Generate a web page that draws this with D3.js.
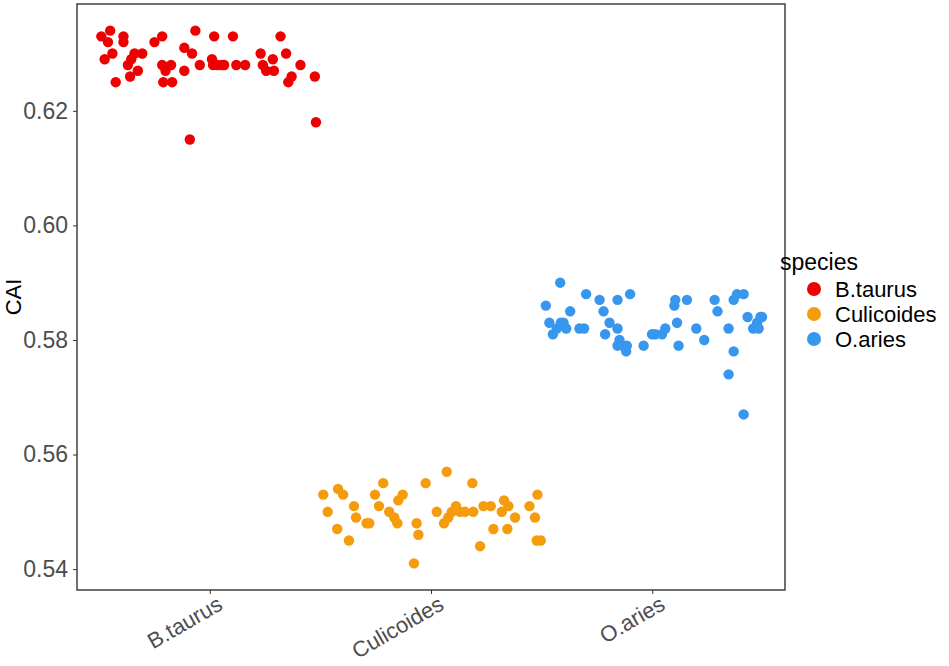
<!DOCTYPE html>
<html>
<head>
    <meta charset="utf-8">
    <title>CAI by species</title>
    <script src="https://cdn.jsdelivr.net/npm/d3@7"></script>
    <style>
        body { margin: 0; background: #fff; }
        text { font-family: "Liberation Sans", Arial, sans-serif; }
    </style>
</head>
<body>
<div id="chart"></div>
<script>
    var width = 949,
        height = 666;

    var species = ["B.taurus", "Culicoides", "O.aries"];
    var colors = ["#EE0000", "#F59C0C", "#3796EE"];
    var yTicks = [0.54, 0.56, 0.58, 0.60, 0.62];

    // CAI values per species, with the horizontal jitter (category units)
    var taurusCAI = [0.633, 0.634, 0.632, 0.633, 0.632, 0.630, 0.629, 0.625, 0.630, 0.630, 0.629, 0.628,
        0.627, 0.626, 0.632, 0.633, 0.628, 0.628, 0.627, 0.625, 0.625, 0.631, 0.630, 0.627, 0.634, 0.628,
        0.633, 0.629, 0.628, 0.628, 0.628, 0.633, 0.628, 0.628, 0.630, 0.628, 0.627, 0.629, 0.627, 0.633,
        0.630, 0.628, 0.626, 0.625, 0.626, 0.618, 0.615, 0.628];
    var taurusJit = [-0.49, -0.45, -0.46, -0.39, -0.39, -0.44, -0.475, -0.425, -0.34, -0.305, -0.355, -0.37,
        -0.325, -0.36, -0.25, -0.215, -0.215, -0.175, -0.2, -0.21, -0.17, -0.115, -0.08, -0.115, -0.065, -0.045,
        0.02, 0.01, 0.015, 0.055, 0.065, 0.105, 0.12, 0.16, 0.23, 0.24, 0.255, 0.285, 0.29, 0.32,
        0.345, 0.41, 0.37, 0.355, 0.475, 0.48, -0.09, 0.035];

    var culiCAI = [0.553, 0.550, 0.547, 0.554, 0.553, 0.545, 0.551, 0.549, 0.548, 0.548, 0.553, 0.551,
        0.555, 0.550, 0.549, 0.548, 0.552, 0.553, 0.548, 0.546, 0.541, 0.555, 0.550, 0.548, 0.557, 0.549,
        0.550, 0.551, 0.550, 0.550, 0.550, 0.555, 0.544, 0.551, 0.551, 0.547, 0.550, 0.552, 0.551, 0.547,
        0.549, 0.551, 0.549, 0.553, 0.545, 0.545];
    var culiJit = [-0.487, -0.467, -0.424, -0.42, -0.397, -0.371, -0.348, -0.339, -0.291, -0.279, -0.253, -0.235,
        -0.216, -0.189, -0.166, -0.152, -0.148, -0.128, -0.065, -0.057, -0.077, -0.024, 0.026, 0.059, 0.071, 0.078,
        0.094, 0.113, 0.131, 0.154, 0.191, 0.187, 0.222, 0.237, 0.27, 0.282, 0.32, 0.33, 0.35, 0.345,
        0.38, 0.445, 0.47, 0.481, 0.478, 0.496];

    var ariesCAI = [0.590, 0.586, 0.583, 0.581, 0.582, 0.583, 0.583, 0.582, 0.585, 0.582, 0.582, 0.588,
        0.587, 0.585, 0.583, 0.581, 0.587, 0.582, 0.588, 0.580, 0.579, 0.579, 0.579, 0.578, 0.579, 0.581,
        0.581, 0.581, 0.582, 0.586, 0.587, 0.587, 0.583, 0.579, 0.582, 0.580, 0.587, 0.585, 0.582, 0.587,
        0.588, 0.588, 0.584, 0.578, 0.574, 0.567, 0.582, 0.583, 0.584, 0.584, 0.582];
    var ariesJit = [-0.416, -0.481, -0.465, -0.449, -0.431, -0.413, -0.401, -0.389, -0.371, -0.329, -0.308, -0.299,
        -0.238, -0.22, -0.193, -0.213, -0.157, -0.157, -0.1, -0.148, -0.157, -0.133, -0.115, -0.118, -0.039, -0.001,
        0.014, 0.044, 0.059, 0.1, 0.104, 0.157, 0.112, 0.119, 0.199, 0.235, 0.282, 0.295, 0.345, 0.368,
        0.383, 0.413, 0.431, 0.368, 0.345, 0.413, 0.456, 0.474, 0.489, 0.496, 0.481];

    var groups = [[taurusCAI, taurusJit], [culiCAI, culiJit], [ariesCAI, ariesJit]];
    var points = [];
    groups.forEach(function(g, k){
        g[0].forEach(function(v, i){
            points.push({sp: k, x: k + 1 + g[1][i], y: v});
        });
    });

    var pLeft = 77, pRight = 785, pTop = 4, pBottom = 590;

    var ext = d3.extent(points, function(d){ return d.y; });
    var pad = (ext[1] - ext[0]) * 0.05;

    var x = d3.scaleLinear().domain([0.4, 3.6]).range([pLeft, pRight]);
    var y = d3.scaleLinear().domain([ext[0] - pad, ext[1] + pad]).range([pBottom, pTop]);

    var svg = d3.select("#chart").append("svg")
        .attr("width", width)
        .attr("height", height);

    svg.append("g").selectAll("circle")
        .data(points)
        .enter().append("circle")
        .attr("cx", function(d){ return x(d.x); })
        .attr("cy", function(d){ return y(d.y); })
        .attr("r", 5.2)
        .attr("fill", function(d){ return colors[d.sp]; });

    // panel border
    svg.append("rect")
        .attr("x", pLeft).attr("y", pTop)
        .attr("width", pRight - pLeft).attr("height", pBottom - pTop)
        .attr("fill", "none")
        .attr("stroke", "#333")
        .attr("stroke-width", 1.4);

    var yAxis = svg.append("g")
        .attr("transform", "translate(" + pLeft + ",0)")
        .call(d3.axisLeft(y).tickValues(yTicks).tickFormat(d3.format(".2f")).tickSize(4).tickPadding(5));
    yAxis.select(".domain").remove();
    yAxis.selectAll("line").attr("stroke", "#333");
    yAxis.selectAll("text").attr("fill", "#4D4D4D").style("font-size", "23px");

    var xAxis = svg.append("g")
        .attr("transform", "translate(0," + pBottom + ")")
        .call(d3.axisBottom(x).tickValues([1, 2, 3]).tickFormat(function(d){ return species[d - 1]; }).tickSize(4));
    xAxis.select(".domain").remove();
    xAxis.selectAll("line").attr("stroke", "#333");
    xAxis.selectAll("text")
        .attr("fill", "#4D4D4D")
        .style("font-size", "22px")
        .attr("text-anchor", "end")
        .attr("x", 6)
        .attr("y", 5)
        .attr("dy", "0.71em")
        .attr("transform", "rotate(-30,6,5)");

    svg.append("text")
        .attr("transform", "translate(21," + ((pTop + pBottom) / 2) + ") rotate(-90)")
        .attr("text-anchor", "middle")
        .style("font-size", "22px")
        .text("CAI");

    // legend
    var legend = svg.append("g").attr("transform", "translate(806,0)");
    legend.append("text")
        .attr("x", -26).attr("y", 270)
        .style("font-size", "23px")
        .text("species");
    var items = legend.selectAll(".item")
        .data(species)
        .enter().append("g")
        .attr("transform", function(d, i){ return "translate(0," + (289 + i * 25) + ")"; });
    items.append("circle")
        .attr("cx", 8).attr("cy", 0).attr("r", 7)
        .attr("fill", function(d, i){ return colors[i]; });
    items.append("text")
        .attr("x", 29).attr("y", 0).attr("dy", "0.35em")
        .style("font-size", "22px")
        .text(function(d){ return d; });
</script>
</body>
</html>
